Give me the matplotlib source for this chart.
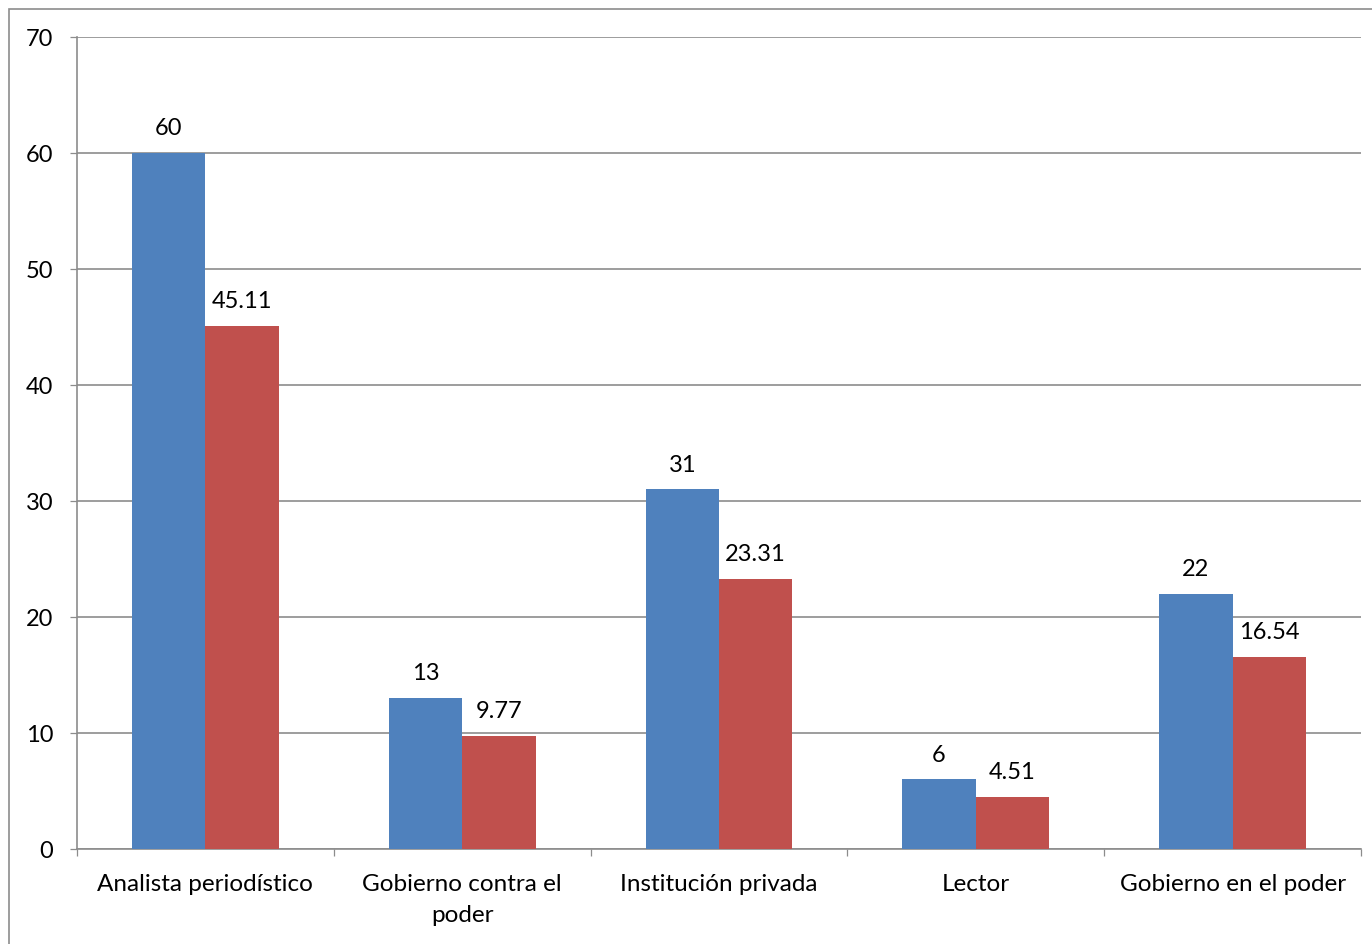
import numpy as np
import matplotlib.pyplot as plt
from matplotlib.patches import Rectangle

categories = ['Analista periodístico', 'Gobierno contra el\npoder', 'Institución privada',
              'Lector', 'Gobierno en el poder']
counts = [60, 13, 31, 6, 22]
percents = [45.11, 9.77, 23.31, 4.51, 16.54]
count_labels = ['60', '13', '31', '6', '22']
percent_labels = ['45.11', '9.77', '23.31', '4.51', '16.54']

plt.rcParams['font.family'] = ['Lato', 'DejaVu Sans']
FS = 17

W, H = 1372, 944
fig = plt.figure(figsize=(W / 100, H / 100), dpi=100)
ax = fig.add_axes([77 / W, 1 - 849 / H, (1361 - 77) / W, (849 - 37) / H])

# outer chart border (cropped at right/bottom)
fig.patches.append(Rectangle((8.5 / W, -0.1), 1.2, 1 - 8.5 / H + 0.1, transform=fig.transFigure,
                             fill=False, edgecolor='#8c8c8c', linewidth=1.2))

x = np.arange(len(categories))
bw = 0.286
blue, red = '#4F81BD', '#C0504D'
ax.bar(x - bw / 2, counts, bw, color=blue, zorder=3)
ax.bar(x + bw / 2, percents, bw, color=red, zorder=3)

for xi, v, lab in zip(x, counts, count_labels):
    ax.annotate(lab, (xi - bw / 2, v), xytext=(0, 10), textcoords='offset points',
                ha='center', va='bottom', fontsize=FS)
for xi, v, lab in zip(x, percents, percent_labels):
    ax.annotate(lab, (xi + bw / 2, v), xytext=(0, 10), textcoords='offset points',
                ha='center', va='bottom', fontsize=FS)

ax.set_xlim(-0.5, len(categories) - 0.5)
ax.set_ylim(0, 70)
ax.set_yticks(np.arange(0, 71, 10))
ax.yaxis.grid(True, color='#8c8c8c', linewidth=1.2, zorder=0)
ax.set_axisbelow(True)

ax.set_xticks(np.arange(-0.5, len(categories), 1.0))
ax.set_xticklabels([])
ax.set_xticks(x, minor=True)
ax.set_xticklabels(categories, minor=True, fontsize=17.5, ha='center', linespacing=1.6)
ax.tick_params(axis='x', which='minor', length=0, pad=18)
ax.tick_params(axis='x', which='major', length=5, width=0.9, color='#8c8c8c', direction='out')
ax.tick_params(axis='y', length=5, width=0.9, color='#8c8c8c', labelsize=FS, pad=12)

for s in ['top', 'right']:
    ax.spines[s].set_visible(False)
for s in ['left', 'bottom']:
    ax.spines[s].set_color('#8c8c8c')
    ax.spines[s].set_linewidth(1.2)

fig.savefig('out.png', dpi=100)
